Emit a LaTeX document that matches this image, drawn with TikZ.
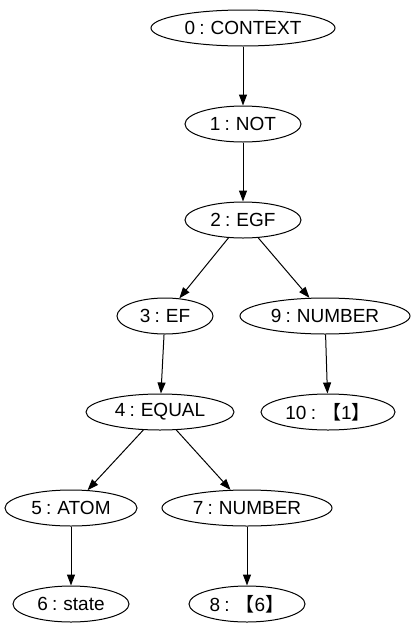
\documentclass[tikz,border=0pt]{standalone}
\usepackage{fontspec}
\setmainfont[WordSpace=0.8]{Liberation Sans}
\newfontfamily\cjk{Noto Sans CJK SC}
\usetikzlibrary{shapes.geometric,arrows.meta}
\begin{document}
\begin{tikzpicture}[x=1pt,y=-1pt,
  nd/.style={ellipse,draw,line width=1pt,inner sep=0pt,minimum height=36pt,font=\fontsize{19}{22}\selectfont},
  ar/.style={-{Triangle[length=11pt,width=8pt]},line width=1pt}]
\useasboundingbox (0,0) rectangle (417,635);
\node[nd,minimum width=184pt] (n0) at (243,28) {0 : CONTEXT};
\node[nd,minimum width=116pt] (n1) at (243,124) {1 : NOT};
\node[nd,minimum width=116pt] (n2) at (243,220) {2 : EGF};
\node[nd,minimum width=96pt] (n3) at (165,316) {3 : EF};
\node[nd,minimum width=170pt] (n9) at (325,316) {9 : NUMBER};
\node[nd,minimum width=148pt] (n4) at (160,412) {4 : EQUAL};
\node[nd,minimum width=134pt] (n10) at (328,412) {10 : {\cjk 【}1{\cjk 】}};
\node[nd,minimum width=132pt] (n5) at (71,508) {5 : ATOM};
\node[nd,minimum width=170pt] (n7) at (247,508) {7 : NUMBER};
\node[nd,minimum width=116pt] (n6) at (71,604) {6 : state};
\node[nd,minimum width=116pt] (n8) at (247,604) {8 : {\cjk 【}6{\cjk 】}};
\draw[ar] (n0) -- (n1);
\draw[ar] (n1) -- (n2);
\draw[ar] (n2) -- (n3);
\draw[ar] (n2) -- (n9);
\draw[ar] (n3) -- (n4);
\draw[ar] (n9) -- (n10);
\draw[ar] (n4) -- (n5);
\draw[ar] (n4) -- (n7);
\draw[ar] (n5) -- (n6);
\draw[ar] (n7) -- (n8);
\end{tikzpicture}
\end{document}
